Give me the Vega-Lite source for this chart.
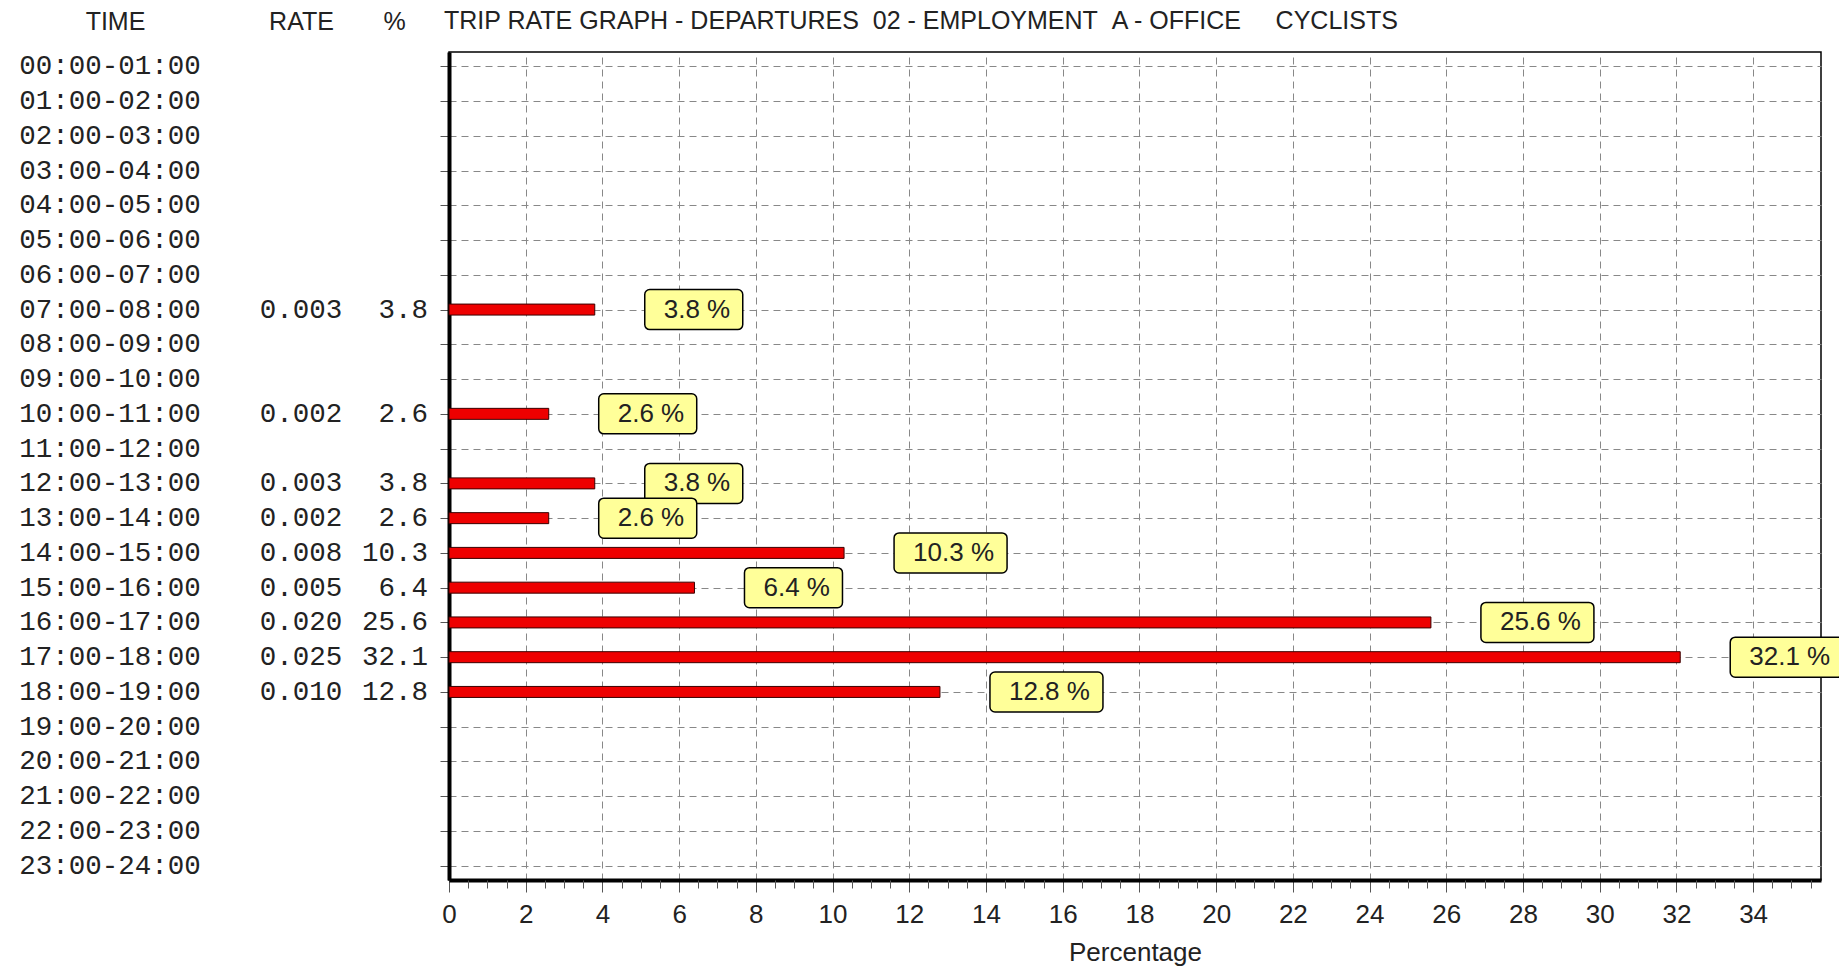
{
  "$schema": "https://vega.github.io/schema/vega-lite/v6.json",
  "padding": {"top": 8, "left": 0, "right": 0, "bottom": 0},
  "background": "white",
  "spacing": 8,
  "config": {"font": "Liberation Sans"},
  "datasets": {
    "rows": [
      {"time": "00:00-01:00", "rate": null, "pct": null},
      {"time": "01:00-02:00", "rate": null, "pct": null},
      {"time": "02:00-03:00", "rate": null, "pct": null},
      {"time": "03:00-04:00", "rate": null, "pct": null},
      {"time": "04:00-05:00", "rate": null, "pct": null},
      {"time": "05:00-06:00", "rate": null, "pct": null},
      {"time": "06:00-07:00", "rate": null, "pct": null},
      {"time": "07:00-08:00", "rate": 0.003, "pct": 3.8},
      {"time": "08:00-09:00", "rate": null, "pct": null},
      {"time": "09:00-10:00", "rate": null, "pct": null},
      {"time": "10:00-11:00", "rate": 0.002, "pct": 2.6},
      {"time": "11:00-12:00", "rate": null, "pct": null},
      {"time": "12:00-13:00", "rate": 0.003, "pct": 3.8},
      {"time": "13:00-14:00", "rate": 0.002, "pct": 2.6},
      {"time": "14:00-15:00", "rate": 0.008, "pct": 10.3},
      {"time": "15:00-16:00", "rate": 0.005, "pct": 6.4},
      {"time": "16:00-17:00", "rate": 0.020, "pct": 25.6},
      {"time": "17:00-18:00", "rate": 0.025, "pct": 32.1},
      {"time": "18:00-19:00", "rate": 0.010, "pct": 12.8},
      {"time": "19:00-20:00", "rate": null, "pct": null},
      {"time": "20:00-21:00", "rate": null, "pct": null},
      {"time": "21:00-22:00", "rate": null, "pct": null},
      {"time": "22:00-23:00", "rate": null, "pct": null},
      {"time": "23:00-24:00", "rate": null, "pct": null}
    ]
  },
  "hconcat": [
    {
      "width": 430,
      "height": 828,
      "data": {"name": "rows"},
      "view": {"stroke": null},
      "encoding": {
        "y": {"field": "time", "type": "nominal", "scale": {"type": "point", "padding": 0.41}, "axis": null}
      },
      "layer": [
        {
          "mark": {"type": "text", "font": "Liberation Mono", "fontSize": 27.5, "xOffset": -5, "color": "#222", "baseline": "middle"},
          "encoding": {
            "x": {
              "datum": "TIME", "type": "nominal",
              "scale": {"type": "point", "domain": ["TIME", " ", "RATE", "%"], "range": [115, 394], "padding": 0},
              "axis": {"orient": "top", "values": ["TIME", "RATE", "%"], "title": null, "ticks": false, "domain": false, "grid": false, "labelAngle": 0, "labelFontSize": 25, "labelColor": "#222", "labelPadding": 18}
            },
            "text": {"field": "time", "type": "nominal"}
          }
        },
        {
          "transform": [{"filter": "datum.rate != null"}],
          "mark": {"type": "text", "font": "Liberation Mono", "fontSize": 27.5, "color": "#222", "baseline": "middle"},
          "encoding": {
            "x": {"datum": "RATE", "type": "nominal"},
            "text": {"field": "rate", "type": "quantitative", "format": ".3f"}
          }
        },
        {
          "transform": [{"filter": "datum.pct != null"}],
          "mark": {"type": "text", "font": "Liberation Mono", "fontSize": 27.5, "color": "#222", "align": "right", "xOffset": 34, "baseline": "middle"},
          "encoding": {
            "x": {"datum": "%", "type": "nominal"},
            "text": {"field": "pct", "type": "quantitative", "format": ".1f"}
          }
        }
      ]
    },
    {
      "width": 1372,
      "height": 828,
      "data": {"name": "rows"},
      "title": {
        "text": "TRIP RATE GRAPH - DEPARTURES\u00a0\u00a002 - EMPLOYMENT\u00a0\u00a0A - OFFICE\u00a0\u00a0\u00a0\u00a0\u00a0CYCLISTS",
        "anchor": "start", "frame": "group", "fontSize": 25, "fontWeight": "normal", "color": "#222", "offset": 18, "dx": -5
      },
      "view": {"stroke": "black", "strokeWidth": 1.5},
      "encoding": {
        "y": {
          "field": "time", "type": "nominal",
          "scale": {"type": "point", "padding": 0.41, "domain": ["00:00-01:00", "01:00-02:00", "02:00-03:00", "03:00-04:00", "04:00-05:00", "05:00-06:00", "06:00-07:00", "07:00-08:00", "08:00-09:00", "09:00-10:00", "10:00-11:00", "11:00-12:00", "12:00-13:00", "13:00-14:00", "14:00-15:00", "15:00-16:00", "16:00-17:00", "17:00-18:00", "18:00-19:00", "19:00-20:00", "20:00-21:00", "21:00-22:00", "22:00-23:00", "23:00-24:00"]},
          "axis": {"title": null, "labels": false, "tickSize": 9, "tickColor": "#555", "domainWidth": 4, "domainColor": "black", "grid": true, "gridDash": [7, 5], "gridColor": "#888"}
        }
      },
      "layer": [
        {
          "transform": [{"filter": "datum.pct != null"}],
          "mark": {"type": "bar", "size": 11, "color": "#ee0000", "stroke": "#3a0000", "strokeWidth": 1},
          "encoding": {
            "x": {
              "field": "pct", "type": "quantitative",
              "scale": {"domain": [0, 35.77], "nice": false, "zero": true},
              "axis": {
                "values": [0, 2, 4, 6, 8, 10, 12, 14, 16, 18, 20, 22, 24, 26, 28, 30, 32, 34],
                "format": "d", "title": "Percentage", "titleFontSize": 26, "titleFontWeight": "normal", "titleColor": "#222", "titlePadding": 12,
                "labelFontSize": 26, "labelColor": "#222", "labelPadding": 9, "labelFlush": false,
                "tickSize": 12, "tickColor": "#555", "domainWidth": 4, "domainColor": "black",
                "grid": true, "gridDash": [7, 5], "gridColor": "#888"
              }
            }
          }
        },
        {
          "transform": [{"filter": "datum.pct != null && datum.pct < 10"}],
          "mark": {"type": "bar", "size": 40, "color": "#ffff99", "stroke": "black", "strokeWidth": 1.5, "cornerRadius": 5, "xOffset": 50, "x2Offset": 148},
          "encoding": {
            "x": {"field": "pct", "type": "quantitative", "axis": null},
            "x2": {"field": "pct"}
          }
        },
        {
          "transform": [{"filter": "datum.pct != null && datum.pct >= 10"}],
          "mark": {"type": "bar", "size": 40, "color": "#ffff99", "stroke": "black", "strokeWidth": 1.5, "cornerRadius": 5, "xOffset": 50, "x2Offset": 163},
          "encoding": {
            "x": {"field": "pct", "type": "quantitative", "axis": null},
            "x2": {"field": "pct"}
          }
        },
        {
          "transform": [
            {"filter": "datum.pct != null"},
            {"calculate": "format(datum.pct, '.1f') + ' %'", "as": "label"}
          ],
          "mark": {"type": "text", "align": "left", "baseline": "middle", "xOffset": 69, "fontSize": 26, "color": "#222"},
          "encoding": {
            "x": {
              "field": "pct", "type": "quantitative",
              "axis": {
                "orient": "bottom",
                "values": [0.5, 1, 1.5, 2.5, 3, 3.5, 4.5, 5, 5.5, 6.5, 7, 7.5, 8.5, 9, 9.5, 10.5, 11, 11.5, 12.5, 13, 13.5, 14.5, 15, 15.5, 16.5, 17, 17.5, 18.5, 19, 19.5, 20.5, 21, 21.5, 22.5, 23, 23.5, 24.5, 25, 25.5, 26.5, 27, 27.5, 28.5, 29, 29.5, 30.5, 31, 31.5, 32.5, 33, 33.5, 34.5, 35, 35.5],
                "labels": false, "title": null, "grid": false, "domain": false, "tickSize": 8, "tickColor": "#555"
              }
            },
            "text": {"field": "label", "type": "nominal"}
          }
        }
      ],
      "resolve": {"axis": {"x": "independent"}}
    }
  ]
}
